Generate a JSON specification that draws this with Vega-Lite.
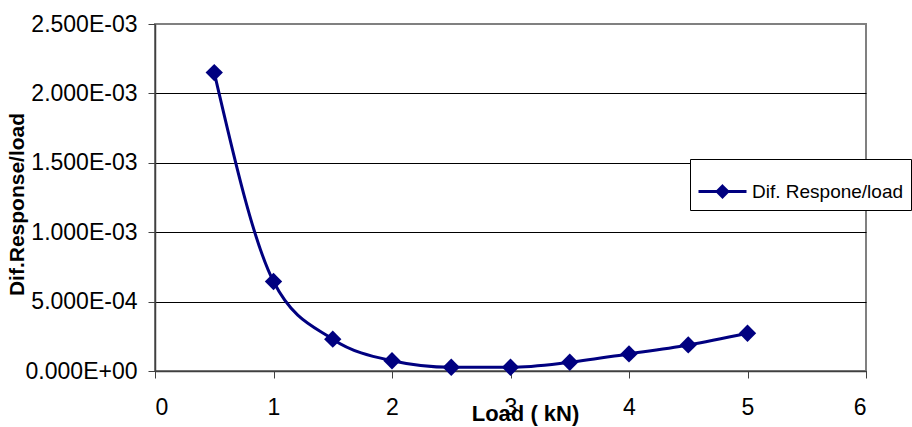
{
  "$schema": "https://vega.github.io/schema/vega-lite/v6.json",
  "width": 711,
  "height": 347,
  "autosize": "none",
  "padding": {"left": 155, "top": 24, "right": 46, "bottom": 56},
  "background": "white",
  "config": {
    "font": "Liberation Sans",
    "view": {"stroke": "#808080", "strokeWidth": 2}
  },
  "data": {
    "values": [
      {"load": 0.5, "response": 0.00215},
      {"load": 1.0, "response": 0.000645},
      {"load": 1.5, "response": 0.000229},
      {"load": 2.0, "response": 0.000074},
      {"load": 2.5, "response": 0.000027},
      {"load": 3.0, "response": 0.000027},
      {"load": 3.5, "response": 0.000063},
      {"load": 4.0, "response": 0.000123},
      {"load": 4.5, "response": 0.000188},
      {"load": 5.0, "response": 0.000272}
    ]
  },
  "encoding": {
    "x": {
      "field": "load",
      "type": "quantitative",
      "scale": {"domain": [0, 6], "nice": false},
      "axis": {
        "values": [0, 1, 2, 3, 4, 5, 6],
        "format": "d",
        "grid": false,
        "labelFont": "Liberation Sans",
        "labelFontSize": 23,
        "labelColor": "black",
        "labelPadding": 18,
        "tickSize": 7,
        "tickColor": "#404040",
        "domainColor": "#404040",
        "domainWidth": 1.5,
        "title": "Load ( kN)",
        "titleFont": "Liberation Sans",
        "titleFontSize": 22,
        "titleFontWeight": "bold",
        "titleColor": "black",
        "titleX": 370,
        "titleY": 32,
        "titleAlign": "center",
        "titleBaseline": "top"
      }
    },
    "y": {
      "field": "response",
      "type": "quantitative",
      "scale": {"domain": [0, 0.0025], "nice": false},
      "axis": {
        "values": [0, 0.0005, 0.001, 0.0015, 0.002, 0.0025],
        "labelExpr": "datum.value == 0 ? '0.000E+00' : format(datum.value / pow(10, floor(log(datum.value) / LN10 + 1e-9)), '.3f') + 'E-' + format(-floor(log(datum.value) / LN10 + 1e-9), '02d')",
        "grid": true,
        "gridColor": {"condition": {"test": "datum.value >= 0.0025", "value": "#808080"}, "value": "#000000"},
        "gridWidth": 1,
        "labelFont": "Liberation Sans",
        "labelFontSize": 23,
        "labelColor": "black",
        "labelPadding": 11,
        "tickSize": 7,
        "tickColor": "#404040",
        "domainColor": "#404040",
        "domainWidth": 1.5,
        "title": "Dif.Response/load",
        "titleFont": "Liberation Sans",
        "titleFontSize": 21,
        "titleFontWeight": "bold",
        "titleColor": "black",
        "titleAngle": -90,
        "titleX": -132,
        "titleY": 180,
        "titleAlign": "center",
        "titleBaseline": "alphabetic"
      }
    }
  },
  "layer": [
    {
      "mark": {"type": "line", "interpolate": "monotone", "color": "#000080", "strokeWidth": 3}
    },
    {
      "mark": {"type": "point", "shape": "diamond", "filled": true, "size": 300, "opacity": 1},
      "encoding": {
        "color": {
          "datum": "Dif. Respone/load",
          "type": "nominal",
          "scale": {"range": ["#000080"]},
          "legend": {
            "title": null,
            "orient": "none",
            "legendX": 535,
            "legendY": 135,
            "padding": 7,
            "strokeColor": "black",
            "fillColor": "white",
            "symbolType": "M-1,0H1M0,-0.22L0.22,0L0,0.22L-0.22,0Z",
            "symbolSize": 2304,
            "symbolStrokeWidth": 3,
            "symbolFillColor": "#000080",
            "symbolStrokeColor": "#000080",
            "labelFont": "Liberation Sans",
            "labelFontSize": 19,
            "labelColor": "black",
            "labelOffset": 4,
            "labelLimit": 0,
            "encode": {
              "symbols": {
                "update": {
                  "fill": {"value": "#000080"},
                  "stroke": {"value": "#000080"},
                  "strokeWidth": {"value": 3},
                  "opacity": {"value": 1}
                }
              }
            }
          }
        }
      }
    }
  ]
}
